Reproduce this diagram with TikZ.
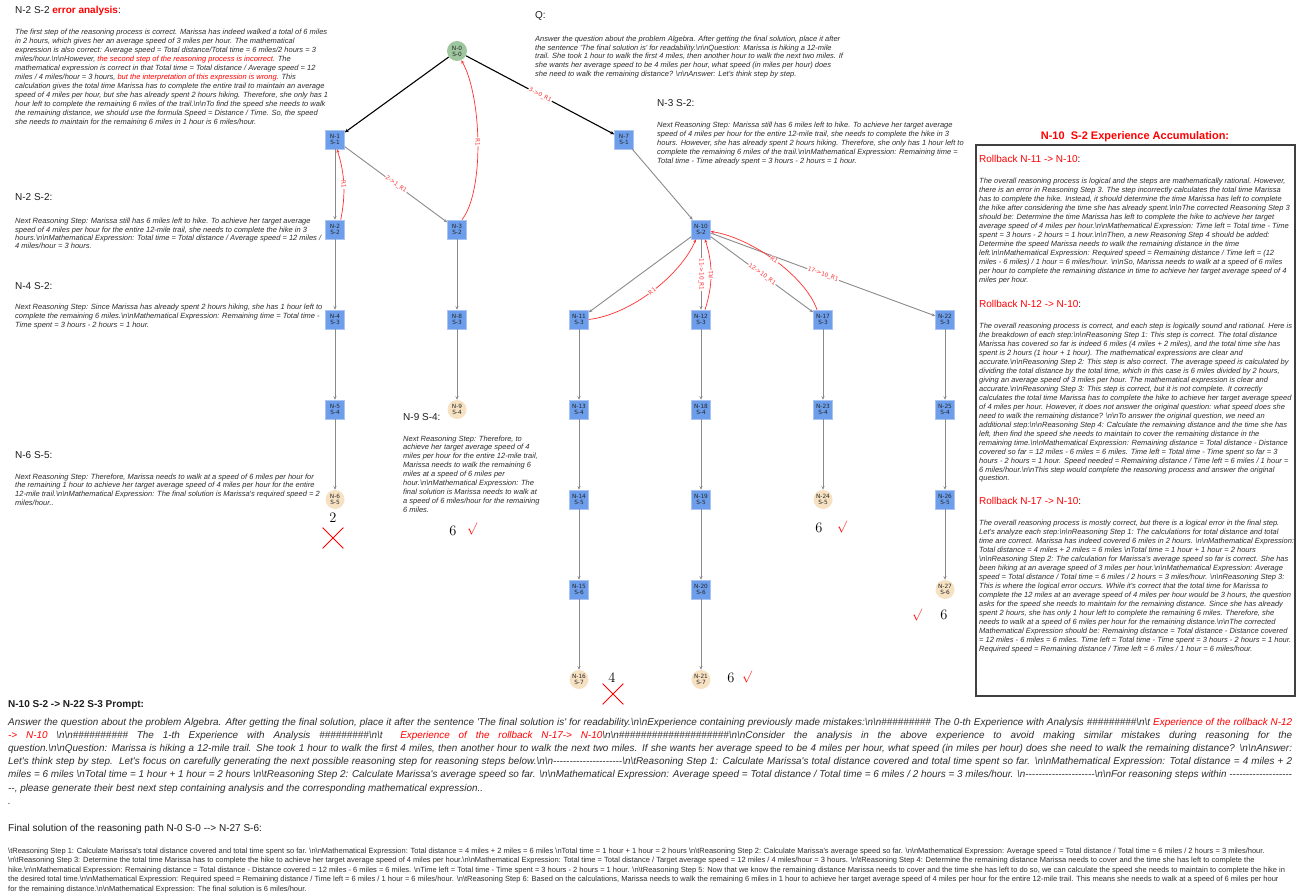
\documentclass[tikz,border=0pt]{standalone}
\usepackage{fontspec}
\setsansfont{Liberation Sans}[Ligatures=TeXOff]
\newfontfamily\nodefont{DejaVu Sans}
\usetikzlibrary{arrows.meta,shapes.misc}
\definecolor{nblue}{HTML}{6D9EEB}
\definecolor{nbluebd}{HTML}{A9C4F2}
\definecolor{ngreen}{HTML}{9FC79F}
\definecolor{ntan}{HTML}{F6E2C2}
\definecolor{egray}{HTML}{8A8A8A}
\definecolor{txt}{HTML}{2E2E2E}
\definecolor{txthd}{HTML}{1E1E1E}
\definecolor{rd}{HTML}{FF0000}
\definecolor{rdl}{HTML}{FF3030}
\newcommand{\Bn}{\textbackslash n}
\newcommand{\Bt}{\textbackslash t}
\begin{document}
\begin{tikzpicture}[x=1pt,y=-1pt,
  bnode/.style={rectangle,fill=nblue,draw=nbluebd,line width=0.5pt,minimum width=19pt,minimum height=19pt,inner sep=0pt,align=center,font=\nodefont\fontsize{5.8}{6.2}\selectfont,text=black!85},
  tnode/.style={bnode,circle,fill=ntan,draw=none},
  gnode/.style={bnode,circle,fill=ngreen,draw=none,minimum width=20pt,minimum height=20pt},
  gedge/.style={draw=egray,line width=0.9pt,-{Stealth[length=3.5pt,width=3pt]}},
  kedge/.style={draw=black,line width=1.1pt,-{Stealth[length=4pt,width=3.5pt]}},
  redge/.style={draw=rdl,line width=0.7pt,-{Stealth[length=3.5pt,width=3pt]}},
  elab/.style={font=\nodefont\fontsize{5.8}{6}\selectfont,text=rdl,fill=white,inner sep=0.6pt,sloped,pos=0.5},
  hd/.style={anchor=base west,inner sep=0pt,font=\sffamily\fontsize{10}{12}\selectfont,text=txthd},
  bd/.style={anchor=base west,inner sep=0pt,font=\sffamily\itshape\fontsize{7.5}{9}\selectfont,text=txt},
  ans/.style={inner sep=0pt,font=\rmfamily\fontsize{14.4}{15}\selectfont,text=black},
  chk/.style={inner sep=0pt,font=\fontsize{12}{12}\selectfont,text=rd},
  xmark/.style={cross out,draw=rd,line width=0.8pt,minimum size=20pt,inner sep=0pt},
]
\useasboundingbox (0,0) rectangle (1299,896);
\fill[white] (0,0) rectangle (1299,896);

% ---------------- graph nodes ----------------
\node[gnode] (n0) at (457,51) {N-0\\S-0};
\node[bnode] (n1) at (335,139.5) {N-1\\S-1};
\node[bnode] (n7) at (624,139.5) {N-7\\S-1};
\node[bnode] (n2) at (335,229.5) {N-2\\S-2};
\node[bnode] (n3) at (457,229.5) {N-3\\S-2};
\node[bnode] (n10) at (701,229.5) {N-10\\S-2};
\node[bnode] (n4) at (335,319.5) {N-4\\S-3};
\node[bnode] (n8) at (457,319.5) {N-8\\S-3};
\node[bnode] (n11) at (579,319.5) {N-11\\S-3};
\node[bnode] (n12) at (701,319.5) {N-12\\S-3};
\node[bnode] (n17) at (823,319.5) {N-17\\S-3};
\node[bnode] (n22) at (945,319.5) {N-22\\S-3};
\node[bnode] (n5) at (335,409.5) {N-5\\S-4};
\node[tnode] (n9) at (457,409.5) {N-9\\S-4};
\node[bnode] (n13) at (579,409.5) {N-13\\S-4};
\node[bnode] (n18) at (701,409.5) {N-18\\S-4};
\node[bnode] (n23) at (823,409.5) {N-23\\S-4};
\node[bnode] (n25) at (945,409.5) {N-25\\S-4};
\node[tnode] (n6) at (335,499.5) {N-6\\S-5};
\node[bnode] (n14) at (579,499.5) {N-14\\S-5};
\node[bnode] (n19) at (701,499.5) {N-19\\S-5};
\node[tnode] (n24) at (823,499.5) {N-24\\S-5};
\node[bnode] (n26) at (945,499.5) {N-26\\S-5};
\node[bnode] (n15) at (579,589.5) {N-15\\S-6};
\node[bnode] (n20) at (701,589.5) {N-20\\S-6};
\node[tnode] (n27) at (945,589.5) {N-27\\S-6};
\node[tnode] (n16) at (579,679.5) {N-16\\S-7};
\node[tnode] (n21) at (701,679.5) {N-21\\S-7};

% ---------------- edges ----------------
\draw[kedge] (n0) -- (n1);
\draw[kedge] (n0) -- node[elab]{3->0\_R1} (n7);
\draw[gedge] (n1) -- (n2);
\draw[gedge] (n1) -- node[elab]{2->1\_R1} (n3);
\draw[gedge] (n2) -- (n4);
\draw[gedge] (n4) -- (n5);
\draw[gedge] (n5) -- (n6);
\draw[gedge] (n3) -- (n8);
\draw[gedge] (n8) -- (n9);
\draw[gedge] (n7) -- (n10);
\draw[gedge] (n10) -- (n11);
\draw[gedge] (n10) -- node[elab]{11->10\_R1} (n12);
\draw[gedge] (n10) -- node[elab]{12->10\_R1} (n17);
\draw[gedge] (n10) -- node[elab]{17->10\_R1} (n22);
\draw[gedge] (n11) -- (n13);
\draw[gedge] (n13) -- (n14);
\draw[gedge] (n14) -- (n15);
\draw[gedge] (n15) -- (n16);
\draw[gedge] (n12) -- (n18);
\draw[gedge] (n18) -- (n19);
\draw[gedge] (n19) -- (n20);
\draw[gedge] (n20) -- (n21);
\draw[gedge] (n17) -- (n23);
\draw[gedge] (n23) -- (n24);
\draw[gedge] (n22) -- (n25);
\draw[gedge] (n25) -- (n26);
\draw[gedge] (n26) -- (n27);

% rollback curves
\draw[redge] ([xshift=-4pt]n2.north east) .. controls +(5,-25) and +(8,25) .. ([xshift=2pt]n1.south) node[elab]{R1};
\draw[redge] ([xshift=5pt]n3.north) .. controls +(23,-30) and +(20,35) .. (n0.-65) node[elab]{R1};
\draw[redge] (n11.east) .. controls +(42,-5) and +(-16,36.5) .. ([xshift=-5pt]n10.south) node[elab]{R1};
\draw[redge] ([xshift=4pt]n12.north) .. controls +(8,-25) and +(8,25) .. ([xshift=4pt]n10.south) node[elab]{R1};
\draw[redge] ([xshift=-6pt]n17.north) .. controls +(-12,-34.5) and +(39.5,6) .. ([yshift=-2pt]n10.east) node[elab]{R1};

% ---------------- answers ----------------
\node[ans] (a6) at (333,518) {2};
\node[xmark] (x6) at (333,538) {};
\node[ans] (a9) at (453,531) {6};
\node[chk] (c9) at (472,529) {$\surd$};
\node[ans] (a24) at (819,528) {6};
\node[chk] (c24) at (842,527) {$\surd$};
\node[chk] (c27) at (917,615) {$\surd$};
\node[ans] (a27) at (944,615) {6};
\node[ans] (a16) at (612,678) {4};
\node[xmark] (x16) at (613,694) {};
\node[ans] (a21) at (731,678) {6};
\node[chk] (c21) at (747,677) {$\surd$};

% ---------------- left texts ----------------
\node[hd] (h1) at (15,13.5) {N-2 S-2 \textbf{\textcolor{rd}{error analysis}}:};
\node[bd] (b1) at (15,34.5) {\parbox[t]{360pt}{\raggedright
The first step of the reasoning process is correct. Marissa has indeed walked a total of 6 miles\\
in 2 hours, which gives her an average speed of 3 miles per hour. The mathematical\\
expression is also correct: Average speed = Total distance/Total time = 6 miles/2 hours = 3\\
miles/hour.\Bn\Bn However, \textcolor{rd}{the second step of the reasoning process is incorrect.} The\\
mathematical expression is correct in that Total time = Total distance / Average speed = 12\\
miles / 4 miles/hour = 3 hours, \textcolor{rd}{but the interpretation of this expression is wrong.} This\\
calculation gives the total time Marissa has to complete the entire trail to maintain an average\\
speed of 4 miles per hour, but she has already spent 2 hours hiking. Therefore, she only has 1\\
hour left to complete the remaining 6 miles of the trail.\Bn\Bn To find the speed she needs to walk\\
the remaining distance, we should use the formula Speed = Distance / Time. So, the speed\\
she needs to maintain for the remaining 6 miles in 1 hour is 6 miles/hour.}};

\node[hd] (h2) at (15,200.5) {N-2 S-2:};
\node[bd] (b2) at (15,224) {\parbox[t]{360pt}{\raggedright\fontsize{7.5}{8.1}\selectfont
Next Reasoning Step: Marissa still has 6 miles left to hike. To achieve her target average\\
speed of 4 miles per hour for the entire 12-mile trail, she needs to complete the hike in 3\\
hours.\Bn\Bn Mathematical Expression: Total time = Total distance / Average speed = 12 miles /\\
4 miles/hour = 3 hours.}};

\node[hd] (h3) at (15,289.5) {N-4 S-2:};
\node[bd] (b3) at (15,309.5) {\parbox[t]{360pt}{\raggedright
Next Reasoning Step: Since Marissa has already spent 2 hours hiking, she has 1 hour left to\\
complete the remaining 6 miles.\Bn\Bn Mathematical Expression: Remaining time = Total time -\\
Time spent = 3 hours - 2 hours = 1 hour.}};

\node[hd] (h4) at (15,458.5) {N-6 S-5:};
\node[bd] (b4) at (15,479) {\parbox[t]{360pt}{\raggedright\fontsize{7.5}{8.7}\selectfont
Next Reasoning Step: Therefore, Marissa needs to walk at a speed of 6 miles per hour for\\
the remaining 1 hour to achieve her target average speed of 4 miles per hour for the entire\\
12-mile trail.\Bn\Bn Mathematical Expression: The final solution is Marissa's required speed = 2\\
miles/hour..}};

% ---------------- middle texts ----------------
\node[hd] (h5) at (535,18.5) {Q:};
\node[bd] (b5) at (535,41.5) {\parbox[t]{360pt}{\raggedright\fontsize{7.5}{8.7}\selectfont
Answer the question about the problem Algebra. After getting the final solution, place it after\\
the sentence 'The final solution is' for readability.\Bn\Bn Question: Marissa is hiking a 12-mile\\
trail. She took 1 hour to walk the first 4 miles, then another hour to walk the next two miles. If\\
she wants her average speed to be 4 miles per hour, what speed (in miles per hour) does\\
she need to walk the remaining distance? \Bn\Bn Answer: Let's think step by step.}};

\node[hd] (h6) at (657,107) {N-3 S-2:};
\node[bd] (b6) at (657,128) {\parbox[t]{360pt}{\raggedright
Next Reasoning Step: Marissa still has 6 miles left to hike. To achieve her target average\\
speed of 4 miles per hour for the entire 12-mile trail, she needs to complete the hike in 3\\
hours. However, she has already spent 2 hours hiking. Therefore, she only has 1 hour left to\\
complete the remaining 6 miles of the trail.\Bn\Bn Mathematical Expression: Remaining time =\\
Total time - Time already spent = 3 hours - 2 hours = 1 hour.}};

\node[hd] (h7) at (403,420.5) {N-9 S-4:};
\node[bd] (b7) at (403,441) {\parbox[t]{200pt}{\raggedright\fontsize{7.5}{8.9}\selectfont
Next Reasoning Step: Therefore, to\\
achieve her target average speed of 4\\
miles per hour for the entire 12-mile trail,\\
Marissa needs to walk the remaining 6\\
miles at a speed of 6 miles per\\
hour.\Bn\Bn Mathematical Expression: The\\
final solution is Marissa needs to walk at\\
a speed of 6 miles/hour for the remaining\\
6 miles.}};

% ---------------- experience box ----------------
\node[anchor=base,inner sep=0pt,font=\sffamily\bfseries\fontsize{11}{13}\selectfont,text=rd] (t8) at (1135,140) {N-10\ \ S-2 Experience Accumulation:};
\draw[draw=black!75,line width=1.2pt] (976,145) rectangle (1295,696);

\node[hd] (h9) at (979,163) {\textcolor{rd}{Rollback N-11 -> N-10}:};
\node[bd] (b9) at (979,184) {\parbox[t]{360pt}{\raggedright
The overall reasoning process is logical and the steps are mathematically rational. However,\\
there is an error in Reasoning Step 3. The step incorrectly calculates the total time Marissa\\
has to complete the hike. Instead, it should determine the time Marissa has left to complete\\
the hike after considering the time she has already spent.\Bn\Bn The corrected Reasoning Step 3\\
should be: Determine the time Marissa has left to complete the hike to achieve her target\\
average speed of 4 miles per hour.\Bn\Bn Mathematical Expression: Time left = Total time - Time\\
spent = 3 hours - 2 hours = 1 hour.\Bn\Bn Then, a new Reasoning Step 4 should be added:\\
Determine the speed Marissa needs to walk the remaining distance in the time\\
left.\Bn\Bn Mathematical Expression: Required speed = Remaining distance / Time left = (12\\
miles - 6 miles) / 1 hour = 6 miles/hour. \Bn\Bn So, Marissa needs to walk at a speed of 6 miles\\
per hour to complete the remaining distance in time to achieve her target average speed of 4\\
miles per hour.}};

\node[hd] (h10) at (979,307.5) {\textcolor{rd}{Rollback N-12 -> N-10}:};
\node[bd] (b10) at (979,328) {\parbox[t]{360pt}{\raggedright
The overall reasoning process is correct, and each step is logically sound and rational. Here is\\
the breakdown of each step:\Bn\Bn Reasoning Step 1: This step is correct. The total distance\\
Marissa has covered so far is indeed 6 miles (4 miles + 2 miles), and the total time she has\\
spent is 2 hours (1 hour + 1 hour). The mathematical expressions are clear and\\
accurate.\Bn\Bn Reasoning Step 2: This step is also correct. The average speed is calculated by\\
dividing the total distance by the total time, which in this case is 6 miles divided by 2 hours,\\
giving an average speed of 3 miles per hour. The mathematical expression is clear and\\
accurate.\Bn\Bn Reasoning Step 3: This step is correct, but it is not complete. It correctly\\
calculates the total time Marissa has to complete the hike to achieve her target average speed\\
of 4 miles per hour. However, it does not answer the original question: what speed does she\\
need to walk the remaining distance? \Bn\Bn To answer the original question, we need an\\
additional step:\Bn\Bn Reasoning Step 4: Calculate the remaining distance and the time she has\\
left, then find the speed she needs to maintain to cover the remaining distance in the\\
remaining time.\Bn\Bn Mathematical Expression: Remaining distance = Total distance - Distance\\
covered so far = 12 miles - 6 miles = 6 miles. Time left = Total time - Time spent so far = 3\\
hours - 2 hours = 1 hour. Speed needed = Remaining distance / Time left = 6 miles / 1 hour =\\
6 miles/hour.\Bn\Bn This step would complete the reasoning process and answer the original\\
question.}};

\node[hd] (h11) at (979,504) {\textcolor{rd}{Rollback N-17 -> N-10}:};
\node[bd] (b11) at (979,525.5) {\parbox[t]{360pt}{\raggedright
The overall reasoning process is mostly correct, but there is a logical error in the final step.\\
Let's analyze each step:\Bn\Bn Reasoning Step 1: The calculations for total distance and total\\
time are correct. Marissa has indeed covered 6 miles in 2 hours. \Bn\Bn Mathematical Expression:\\
Total distance = 4 miles + 2 miles = 6 miles \Bn Total time = 1 hour + 1 hour = 2 hours\\
\Bn\Bn Reasoning Step 2: The calculation for Marissa's average speed so far is correct. She has\\
been hiking at an average speed of 3 miles per hour.\Bn\Bn Mathematical Expression: Average\\
speed = Total distance / Total time = 6 miles / 2 hours = 3 miles/hour. \Bn\Bn Reasoning Step 3:\\
This is where the logical error occurs. While it's correct that the total time for Marissa to\\
complete the 12 miles at an average speed of 4 miles per hour would be 3 hours, the question\\
asks for the speed she needs to maintain for the remaining distance. Since she has already\\
spent 2 hours, she has only 1 hour left to complete the remaining 6 miles. Therefore, she\\
needs to walk at a speed of 6 miles per hour for the remaining distance.\Bn\Bn The corrected\\
Mathematical Expression should be: Remaining distance = Total distance - Distance covered\\
= 12 miles - 6 miles = 6 miles. Time left = Total time - Time spent = 3 hours - 2 hours = 1 hour.\\
Required speed = Remaining distance / Time left = 6 miles / 1 hour = 6 miles/hour.}};

% ---------------- bottom prompt ----------------
\node[hd,font=\sffamily\bfseries\fontsize{10}{12}\selectfont] (h12) at (8,707.5) {N-10 S-2 -> N-22 S-3 Prompt:};
\node[bd] (b12) at (8,725) {\parbox[t]{1284pt}{\fontsize{9.9}{13.2}\selectfont
Answer the question about the problem Algebra. After getting the final solution, place it after the sentence 'The final solution is' for readability.\Bn\Bn Experience containing previously made mistakes:\Bn\Bn\#\#\#\#\#\#\#\#\# The 0-th Experience with Analysis \#\#\#\#\#\#\#\#\#\Bn\Bt\ \textcolor{rd}{Experience of the rollback N-12}\linebreak
\textcolor{rd}{-> N-10} \Bn\Bn\#\#\#\#\#\#\#\#\#\# The 1-th Experience with Analysis \#\#\#\#\#\#\#\#\#\Bn\Bt\ \ \textcolor{rd}{Experience of the rollback N-17-> N-10}\Bn\Bn\#\#\#\#\#\#\#\#\#\#\#\#\#\#\#\#\#\#\#\#\Bn\Bn Consider the analysis in the above experience to avoid making similar mistakes during reasoning for the\linebreak
question.\Bn\Bn Question: Marissa is hiking a 12-mile trail. She took 1 hour to walk the first 4 miles, then another hour to walk the next two miles. If she wants her average speed to be 4 miles per hour, what speed (in miles per hour) does she need to walk the remaining distance? \Bn\Bn Answer:\linebreak
Let's think step by step.\ \ Let's focus on carefully generating the next possible reasoning step for reasoning steps below.\Bn\Bn---------------------\Bn\Bt Reasoning Step 1: Calculate Marissa's total distance covered and total time spent so far. \Bn\Bn Mathematical Expression: Total distance = 4 miles + 2\linebreak
miles = 6 miles \Bn Total time = 1 hour + 1 hour = 2 hours \Bn\Bt Reasoning Step 2: Calculate Marissa's average speed so far. \Bn\Bn Mathematical Expression: Average speed = Total distance / Total time = 6 miles / 2 hours = 3 miles/hour. \Bn---------------------\Bn\Bn For reasoning steps within -------------------\linebreak
--, please generate their best next step containing analysis and the corresponding mathematical expression..\\
.}};

% ---------------- final solution ----------------
\node[hd] (h13) at (8,831.5) {Final solution of the reasoning path N-0 S-0 --> N-27 S-6:};
\node[bd,font=\sffamily\fontsize{7.5}{9.5}\selectfont] (b13) at (8,853) {\parbox[t]{1500pt}{\raggedright
\Bt Reasoning Step 1: Calculate Marissa's total distance covered and total time spent so far. \Bn\Bn Mathematical Expression: Total distance = 4 miles + 2 miles = 6 miles \Bn Total time = 1 hour + 1 hour = 2 hours \Bn\Bt Reasoning Step 2: Calculate Marissa's average speed so far. \Bn\Bn Mathematical Expression: Average speed = Total distance / Total time = 6 miles / 2 hours = 3 miles/hour.\\
\Bn\Bt Reasoning Step 3: Determine the total time Marissa has to complete the hike to achieve her target average speed of 4 miles per hour.\Bn\Bn Mathematical Expression: Total time = Total distance / Target average speed = 12 miles / 4 miles/hour = 3 hours. \Bn\Bt Reasoning Step 4: Determine the remaining distance Marissa needs to cover and the time she has left to complete the\\
hike.\Bn\Bn Mathematical Expression: Remaining distance = Total distance - Distance covered = 12 miles - 6 miles = 6 miles. \Bn Time left = Total time - Time spent = 3 hours - 2 hours = 1 hour. \Bn\Bt Reasoning Step 5: Now that we know the remaining distance Marissa needs to cover and the time she has left to do so, we can calculate the speed she needs to maintain to complete the hike in\\
the desired total time.\Bn\Bn Mathematical Expression: Required speed = Remaining distance / Time left = 6 miles / 1 hour = 6 miles/hour. \Bn\Bt Reasoning Step 6: Based on the calculations, Marissa needs to walk the remaining 6 miles in 1 hour to achieve her target average speed of 4 miles per hour for the entire 12-mile trail. This means she needs to walk at a speed of 6 miles per hour\\
for the remaining distance.\Bn\Bn Mathematical Expression: The final solution is 6 miles/hour.}};
\end{tikzpicture}
\end{document}
